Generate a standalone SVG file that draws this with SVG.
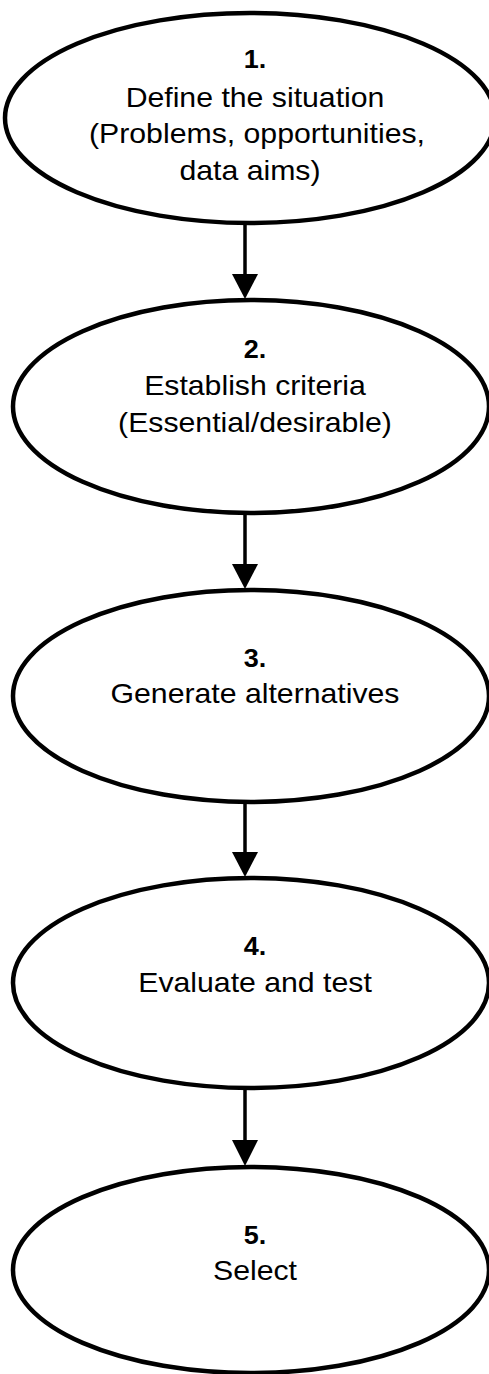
<svg xmlns="http://www.w3.org/2000/svg" width="489" height="1374" viewBox="0 0 489 1374">
<style>
.node ellipse{fill:#fff;stroke:#000;stroke-width:4.5}
.num{font-family:"Liberation Sans",Arial,sans-serif;font-weight:bold;font-size:25px;text-anchor:middle;fill:#000}
.lbl{font-family:"Liberation Sans",Arial,sans-serif;font-size:28px;text-anchor:middle;fill:#000}
.conn line{stroke:#000;stroke-width:3.5}
.conn path{fill:#000}
</style>
<rect width="489" height="1374" fill="#fff"/>
<g id="connectors" class="conn">
<line x1="245" y1="222" x2="245" y2="275"/><path d="M232,274 L258,274 L245,299 Z"/>
<line x1="245" y1="512" x2="245" y2="565"/><path d="M232,564 L258,564 L245,589 Z"/>
<line x1="245" y1="801" x2="245" y2="853"/><path d="M232,852 L258,852 L245,877 Z"/>
<line x1="245" y1="1087" x2="245" y2="1141"/><path d="M232,1140 L258,1140 L245,1166 Z"/>
</g>
<g id="node1" class="node">
<ellipse cx="250" cy="118" rx="245" ry="105"/>
<text class="num" transform="translate(255,68) scale(1.08,1)">1.</text>
<text class="lbl" transform="translate(255,107) scale(1.08,1)">Define the situation</text>
<text class="lbl" transform="translate(257,143) scale(1.08,1)">(Problems, opportunities,</text>
<text class="lbl" transform="translate(250,180) scale(1.08,1)">data aims)</text>
</g>
<g id="node2" class="node">
<ellipse cx="251" cy="406.5" rx="238" ry="106.5"/>
<text class="num" transform="translate(255,358) scale(1.08,1)">2.</text>
<text class="lbl" transform="translate(255,395) scale(1.08,1)">Establish criteria</text>
<text class="lbl" transform="translate(255,432) scale(1.08,1)">(Essential/desirable)</text>
</g>
<g id="node3" class="node">
<ellipse cx="251" cy="696" rx="238" ry="106"/>
<text class="num" transform="translate(255,667) scale(1.08,1)">3.</text>
<text class="lbl" transform="translate(255,703) scale(1.08,1)">Generate alternatives</text>
</g>
<g id="node4" class="node">
<ellipse cx="251" cy="983" rx="238" ry="105"/>
<text class="num" transform="translate(255,955) scale(1.08,1)">4.</text>
<text class="lbl" transform="translate(255,992) scale(1.08,1)">Evaluate and test</text>
</g>
<g id="node5" class="node">
<ellipse cx="251" cy="1270" rx="238" ry="103"/>
<text class="num" transform="translate(255,1244) scale(1.08,1)">5.</text>
<text class="lbl" transform="translate(255,1280) scale(1.08,1)">Select</text>
</g>
</svg>
